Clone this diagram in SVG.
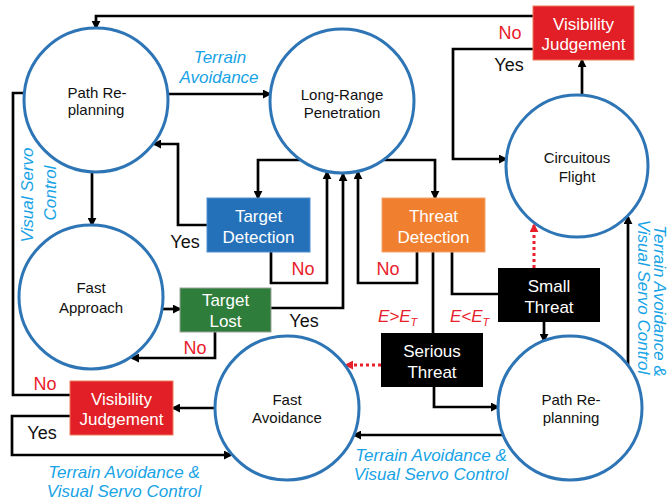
<svg xmlns="http://www.w3.org/2000/svg" width="670" height="503" viewBox="0 0 670 503">
  <style>
    .st { fill: #fff; stroke: #2E75B6; stroke-width: 3; }
    .ct { font-family: "Liberation Sans", Arial, sans-serif; font-size: 15px; fill: #111; text-anchor: middle; }
    .bt { font-family: "Liberation Sans", Arial, sans-serif; font-size: 17px; fill: #fff; text-anchor: middle; }
    .yn { font-family: "Liberation Sans", Arial, sans-serif; font-size: 18px; text-anchor: middle; }
    .yes { fill: #111; }
    .no { fill: #E8202A; }
    .cy { font-family: "Liberation Sans", Arial, sans-serif; font-size: 17px; font-style: italic; fill: #17A3E6; text-anchor: middle; }
    .et { font-family: "Liberation Sans", Arial, sans-serif; font-size: 17px; font-style: italic; fill: #E8202A; }
    .ln { fill: none; stroke: #000; stroke-width: 2.7; marker-end: url(#ah); }
    .lnn { fill: none; stroke: #000; stroke-width: 2.7; }
    .dr { fill: none; stroke: #E8202A; stroke-width: 3; stroke-dasharray: 3 3; marker-end: url(#ahr); }
  </style>
  <defs>
    <marker id="ah" viewBox="0 0 10 10" refX="8" refY="5" markerWidth="9" markerHeight="9" markerUnits="userSpaceOnUse" orient="auto">
      <path d="M0,0 L10,5 L0,10 z" fill="#000"/>
    </marker>
    <marker id="ahr" viewBox="0 0 10 10" refX="8" refY="5" markerWidth="9" markerHeight="9" markerUnits="userSpaceOnUse" orient="auto">
      <path d="M0,0 L10,5 L0,10 z" fill="#E8202A"/>
    </marker>
  </defs>
  <rect width="670" height="503" fill="#fff"/>

  <!-- connectors -->
  <g id="connectors">
    <path class="ln" d="M533,16 H96 V28"/>
    <path class="ln" d="M533,49 H453 V159 H506"/>
    <path class="ln" d="M582,95 V60"/>
    <path class="ln" d="M168,94 H270"/>
    <path class="lnn" d="M70,395 H13 V93 H26"/>
    <path class="ln" d="M92,172 V225"/>
    <path class="ln" d="M300,160 H258 V198"/>
    <path class="ln" d="M207,225 H178 V144 H154"/>
    <path class="ln" d="M271,252 V283 H327 V172"/>
    <path class="ln" d="M271,308 H343 V174"/>
    <path class="ln" d="M417,252 V283 H358 V172"/>
    <path class="ln" d="M384,160 H435 V198"/>
    <path class="lnn" d="M452,252 V294 H498"/>
    <path class="lnn" d="M433,252 V333"/>
    <path class="ln" d="M544,322 V341"/>
    <path class="dr" d="M534,268 V225"/>
    <path class="dr" d="M381,365 H346"/>
    <path class="ln" d="M434,387 V407 H498"/>
    <path class="ln" d="M503,435 H354"/>
    <path class="ln" d="M628,365 V217"/>
    <path class="ln" d="M162,309 H180"/>
    <path class="ln" d="M215,332 V358 H132"/>
    <path class="ln" d="M215,408 H173"/>
    <path class="ln" d="M70,416 H12 V455 H231"/>

    <!-- branch labels -->
    <text class="yn no" x="510" y="39">No</text>
    <text class="yn yes" x="509" y="71">Yes</text>
    <text class="yn yes" x="185" y="248">Yes</text>
    <text class="yn no" x="303" y="275">No</text>
    <text class="yn no" x="388" y="275">No</text>
    <text class="yn yes" x="304" y="327">Yes</text>
    <text class="yn no" x="195" y="354">No</text>
    <text class="yn no" x="45" y="390">No</text>
    <text class="yn yes" x="42" y="439">Yes</text>

    <text class="et" x="378" y="322">E&gt;E<tspan font-size="11" dy="4">T</tspan></text>
    <text class="et" x="450" y="322">E&lt;E<tspan font-size="11" dy="4">T</tspan></text>

    <!-- mode labels -->
    <text class="cy" x="220" y="63">Terrain</text>
    <text class="cy" x="219" y="83">Avoidance</text>
    <text class="cy" transform="translate(33,195) rotate(-90)">Visual Servo</text>
    <text class="cy" transform="translate(56,193) rotate(-90)">Control</text>
    <text class="cy" x="124" y="478">Terrain Avoidance &amp;</text>
    <text class="cy" x="124" y="497">Visual Servo Control</text>
    <text class="cy" x="431" y="461">Terrain Avoidance &amp;</text>
    <text class="cy" x="431" y="480">Visual Servo Control</text>
    <text class="cy" transform="translate(654,301) rotate(90)">Terrain Avoidance &amp;</text>
    <text class="cy" transform="translate(638,297) rotate(90)">Visual Servo Control</text>
  </g>

  <!-- state circles -->
  <g id="path-replanning-top">
    <circle class="st" cx="96" cy="100" r="72"/>
    <text class="ct" x="97" y="98">Path Re-</text>
    <text class="ct" x="96" y="115">planning</text>
  </g>
  <g id="long-range-penetration">
    <circle class="st" cx="342" cy="101" r="72"/>
    <text class="ct" x="342" y="100">Long-Range</text>
    <text class="ct" x="342" y="118">Penetration</text>
  </g>
  <g id="circuitous-flight">
    <circle class="st" cx="577" cy="166" r="71"/>
    <text class="ct" x="577" y="163">Circuitous</text>
    <text class="ct" x="577" y="182">Flight</text>
  </g>
  <g id="fast-approach">
    <circle class="st" cx="91" cy="297" r="72"/>
    <text class="ct" x="91" y="293">Fast</text>
    <text class="ct" x="91" y="313">Approach</text>
  </g>
  <g id="fast-avoidance">
    <circle class="st" cx="287" cy="408" r="72"/>
    <text class="ct" x="287" y="405">Fast</text>
    <text class="ct" x="287" y="423">Avoidance</text>
  </g>
  <g id="path-replanning-bottom">
    <circle class="st" cx="570" cy="408" r="72"/>
    <text class="ct" x="571" y="405">Path Re-</text>
    <text class="ct" x="571" y="423">planning</text>
  </g>

  <!-- decision boxes -->
  <g id="visibility-judgement-top">
    <rect x="533" y="6" width="101" height="54" fill="#E21F26" stroke="#EE7A5A" stroke-width="1"/>
    <text class="bt" x="583.5" y="30">Visibility</text>
    <text class="bt" x="583.5" y="50">Judgement</text>
  </g>
  <g id="target-detection">
    <rect x="207" y="198" width="103" height="54" fill="#2471B9" stroke="#4F8FD0" stroke-width="1"/>
    <text class="bt" x="258.5" y="222">Target</text>
    <text class="bt" x="258.5" y="243">Detection</text>
  </g>
  <g id="threat-detection">
    <rect x="382" y="198" width="103" height="54" fill="#F07F30" stroke="#F4A46A" stroke-width="1"/>
    <text class="bt" x="433.5" y="222">Threat</text>
    <text class="bt" x="433.5" y="243">Detection</text>
  </g>
  <g id="target-lost">
    <rect x="180" y="288" width="91" height="44" fill="#2E7D3A" stroke="#9AA39A" stroke-width="1"/>
    <text class="bt" x="225.5" y="306">Target</text>
    <text class="bt" x="225.5" y="327">Lost</text>
  </g>
  <g id="small-threat">
    <rect x="498" y="268" width="102" height="54" fill="#000"/>
    <text class="bt" x="549" y="292">Small</text>
    <text class="bt" x="549" y="313">Threat</text>
  </g>
  <g id="serious-threat">
    <rect x="381" y="333" width="102" height="54" fill="#000"/>
    <text class="bt" x="432" y="357">Serious</text>
    <text class="bt" x="432" y="378">Threat</text>
  </g>
  <g id="visibility-judgement-bottom">
    <rect x="70" y="381" width="103" height="54" fill="#E21F26" stroke="#EE7A5A" stroke-width="1"/>
    <text class="bt" x="121.5" y="405">Visibility</text>
    <text class="bt" x="121.5" y="425">Judgement</text>
  </g>
</svg>
